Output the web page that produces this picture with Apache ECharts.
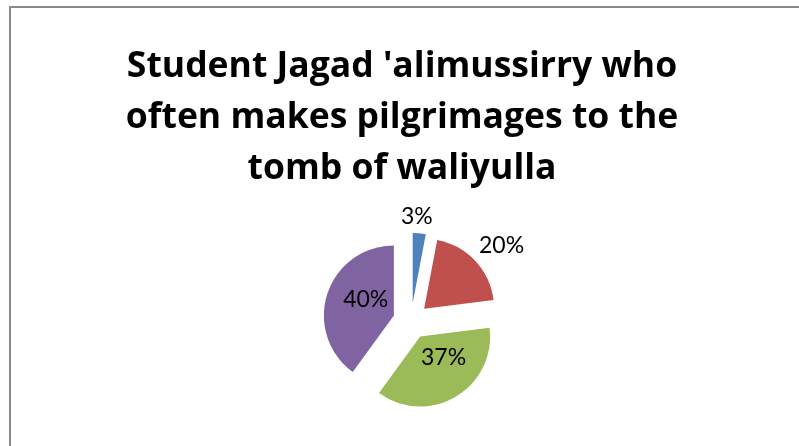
<!DOCTYPE html>
<html>
<head>
<meta charset="utf-8">
<script src="https://cdn.jsdelivr.net/npm/echarts@6/dist/echarts.min.js"></script>
<style>
  html, body { margin: 0; padding: 0; background: #fff; }
  #pieChart { width: 799px; height: 446px; }
</style>
</head>
<body>
<div id="pieChart"></div>
<script>
// chart data
const titleLines = ["Student Jagad 'alimussirry who", 'often makes pilgrimages to the', 'tomb of waliyulla'];
const categories = ['1', '2', '3', '4'];
const values = [3, 20, 37, 40];
const colors = ['#4F81BD', '#C0504D', '#9BBB59', '#8064A2'];
// outside labels for the small slices, inside for the big ones
const labelPos = ['outside', 'outside', 'inside', 'inside'];
// small nudges for labels [dx, dy]
const labelNudge = [[-24, -9], [-7, -10], [4, -12], [8, -4]];

const myChart = echarts.init(document.getElementById('pieChart'));
myChart.setOption({
  animation: false,
  title: {
    text: titleLines.join('\n'),
    left: 397,
    top: 36,
    textAlign: 'center',
    textStyle: {
      fontFamily: 'Open Sans',
      fontWeight: 'bold',
      fontSize: 35.5,
      lineHeight: 51,
      color: '#000'
    }
  },
  graphic: [
    {
      // chart area border
      type: 'rect',
      shape: { x: 10, y: 7, width: 900, height: 600 },
      style: { fill: 'none', stroke: '#898989', lineWidth: 2 },
      silent: true
    }
  ],
  series: [
    {
      type: 'pie',
      center: [411, 321],
      radius: 70,
      startAngle: 90,
      clockwise: true,
      selectedMode: 'multiple',
      selectedOffset: 18,
      avoidLabelOverlap: false,
      labelLine: { show: false, length: 8, length2: 0 },
      label: {
        formatter: '{d}%',
        fontFamily: 'Lato',
        fontSize: 23,
        color: '#000'
      },
      labelLayout: function (params) {
        const n = labelNudge[params.dataIndex];
        return { dx: n[0], dy: n[1] };
      },
      select: { itemStyle: {} },
      data: values.map(function (v, i) {
        return {
          name: categories[i],
          value: v,
          selected: true,
          itemStyle: { color: colors[i] },
          label: { position: labelPos[i] }
        };
      })
    }
  ]
});
window.addEventListener('resize', () => {
  myChart.resize();
});
</script>
</body>
</html>
